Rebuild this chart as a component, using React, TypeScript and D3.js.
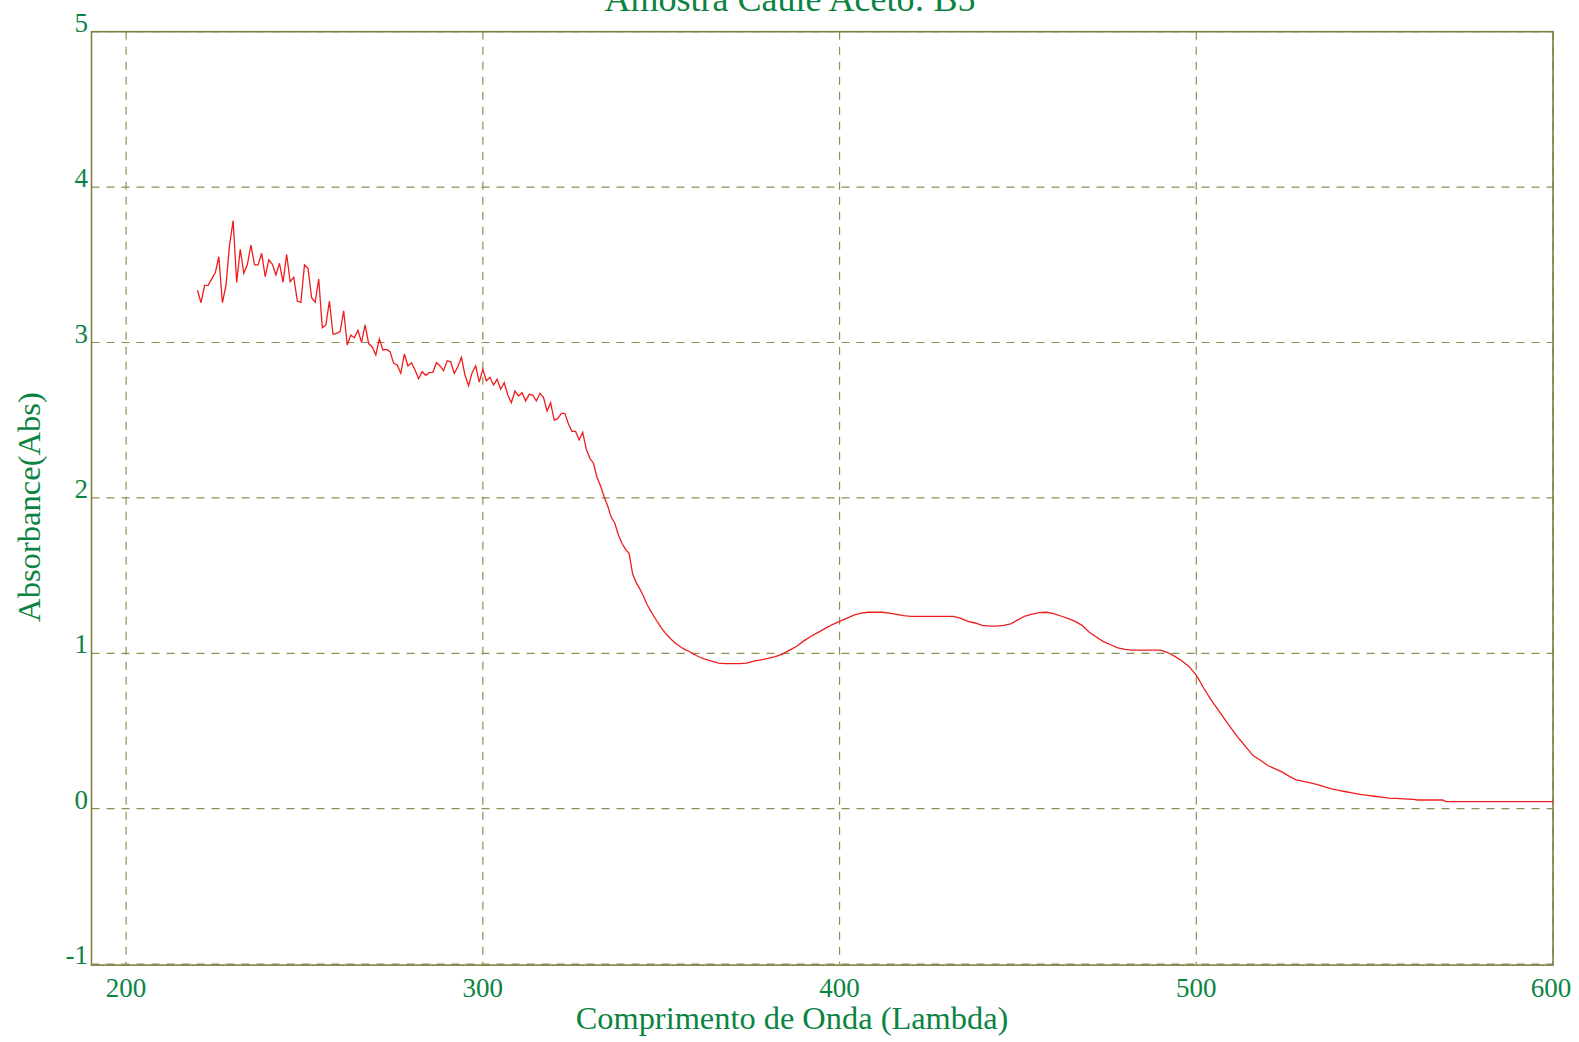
import React, { useEffect } from "react";
import * as d3 from "d3";

const title = "Amostra Caule Aceto: B5";
const xTitle = "Comprimento de Onda (Lambda)";
const yTitle = "Absorbance(Abs)";

const xTicks = [200, 300, 400, 500, 600];
const yTicks = [-1, 0, 1, 2, 3, 4, 5];

// noisy part, 1 nm steps from 220 to 342
const noisyStart = 220;
const noisyAbs = [
  3.336, 3.256, 3.368, 3.368, 3.409, 3.449, 3.552, 3.256, 3.368, 3.627,
  3.784, 3.387, 3.6, 3.445, 3.503, 3.627, 3.499, 3.499, 3.574, 3.423,
  3.533, 3.503, 3.434, 3.51, 3.387, 3.568, 3.391, 3.42, 3.267, 3.259,
  3.499, 3.477, 3.288, 3.259, 3.409, 3.095, 3.113, 3.267, 3.053, 3.059,
  3.07, 3.203, 2.984, 3.048, 3.031, 3.078, 3.001, 3.113, 2.992, 2.971,
  2.92, 3.023, 2.952, 2.956, 2.941, 2.866, 2.855, 2.802, 2.926, 2.849,
  2.87, 2.823, 2.767, 2.812, 2.789, 2.806, 2.808, 2.87, 2.849, 2.819,
  2.883, 2.876, 2.802, 2.844, 2.905, 2.791, 2.722, 2.806, 2.849, 2.745,
  2.828, 2.754, 2.776, 2.727, 2.763, 2.699, 2.741, 2.662, 2.613, 2.688,
  2.656, 2.677, 2.624, 2.667, 2.662, 2.624, 2.673, 2.647, 2.559, 2.613,
  2.501, 2.51, 2.544, 2.544, 2.476, 2.428, 2.428, 2.373, 2.422, 2.313,
  2.255, 2.223, 2.133, 2.077, 2.008, 1.948, 1.875, 1.837, 1.761, 1.708,
  1.669, 1.643, 1.51,
];

// smooth part
const smoothLambda = [
  343, 344, 345, 346, 347, 348, 349, 350, 351, 352, 353, 354, 355, 356, 357,
  358, 359, 360, 361, 362, 363, 364, 365, 366, 368, 370, 372, 374, 376, 378,
  380, 382, 384, 386, 388, 390, 392, 394, 396, 398, 400, 402, 404, 406, 408,
  410, 412, 414, 416, 418, 420, 425, 430, 432, 434, 436, 438, 440, 442, 444,
  446, 448, 450, 452, 454, 456, 458, 460, 462, 464, 466, 468, 470, 472, 474,
  476, 478, 480, 482, 486, 490, 492, 494, 496, 498, 500, 502, 504, 506, 508,
  510, 512, 514, 516, 518, 520, 522, 524, 526, 528, 530, 532, 534, 536, 538,
  540, 542, 544, 546, 548, 550, 552, 554, 556, 558, 561, 562, 569, 570, 600,
];
const smoothAbs = [
  1.455, 1.415, 1.369, 1.316, 1.275, 1.237, 1.2, 1.165, 1.135, 1.11, 1.085,
  1.065, 1.049, 1.033, 1.02, 1.01, 0.996, 0.984, 0.973, 0.964, 0.957, 0.95,
  0.945, 0.937, 0.934, 0.934, 0.934, 0.937, 0.95, 0.958, 0.968, 0.979, 0.995,
  1.02, 1.045, 1.08, 1.11, 1.135, 1.16, 1.185, 1.206, 1.225, 1.245, 1.258,
  1.264, 1.264, 1.264, 1.258, 1.25, 1.242, 1.238, 1.238, 1.238, 1.238, 1.225,
  1.205, 1.195, 1.18, 1.175, 1.175, 1.18, 1.19, 1.215, 1.24, 1.252, 1.262,
  1.264, 1.255, 1.24, 1.225, 1.205, 1.18, 1.135, 1.105, 1.075, 1.055, 1.035,
  1.025, 1.021, 1.021, 1.021, 1.005, 0.98, 0.95, 0.914, 0.86, 0.78, 0.705,
  0.64, 0.575, 0.51, 0.45, 0.395, 0.34, 0.312, 0.278, 0.258, 0.237, 0.21,
  0.186, 0.176, 0.166, 0.155, 0.14, 0.128, 0.118, 0.109, 0.1, 0.092, 0.086,
  0.08, 0.074, 0.068, 0.066, 0.063, 0.06, 0.056, 0.056, 0.045, 0.045,
];

type P = { x: number; y: number };
const data: P[] = [
  ...noisyAbs.map((v, i) => ({ x: noisyStart + i, y: v })),
  ...smoothLambda.map((l, i) => ({ x: l, y: smoothAbs[i] })),
];

const W = 1579;
const H = 1042;
const left = 91.5;
const right = 1553;
const top = 31.7;
const bottom = 964.1;

const textColor = "#0b8443";
const frameColor = "#808040";
const gridColor = "#8f8f55";
const font = "'Liberation Serif', 'Times New Roman', serif";

export default function App() {
  useEffect(() => {
    document.body.style.margin = "0";
  }, []);
  const x = d3.scaleLinear().domain([190.3, 600]).range([left, right]);
  const y = d3.scaleLinear().domain([-1, 5]).range([bottom, top]);
  const line = d3
    .line<P>()
    .x((d) => x(d.x))
    .y((d) => y(d.y));

  return (
    <svg width={W} height={H} style={{ display: "block", background: "#fff" }}>
      <text
        x={790}
        y={11}
        textAnchor="middle"
        fontFamily={font}
        fontSize={36}
        fill={textColor}
      >
        {title}
      </text>
      {xTicks.map((t) => (
        <line
          key={"gx" + t}
          x1={x(t)}
          x2={x(t)}
          y1={top}
          y2={bottom}
          stroke={gridColor}
          strokeWidth={1.2}
          strokeDasharray="8,7"
        />
      ))}
      {yTicks.map((t) => (
        <line
          key={"gy" + t}
          x1={left}
          x2={right}
          y1={y(t)}
          y2={y(t)}
          stroke={gridColor}
          strokeWidth={1.2}
          strokeDasharray="8,7"
        />
      ))}
      <rect
        x={left}
        y={top}
        width={right - left}
        height={bottom - top + 1}
        fill="none"
        stroke={frameColor}
        strokeWidth={1.6}
      />
      <path d={line(data) || ""} fill="none" stroke="#f01c1c" strokeWidth={1.3} />
      {yTicks.map((t) => (
        <text
          key={"ty" + t}
          x={88}
          y={y(t)}
          textAnchor="end"
          fontFamily={font}
          fontSize={27}
          fill={textColor}
        >
          {t}
        </text>
      ))}
      {xTicks.map((t) => (
        <text
          key={"tx" + t}
          x={t === 600 ? x(t) - 2 : x(t)}
          y={997}
          textAnchor="middle"
          fontFamily={font}
          fontSize={27}
          fill={textColor}
        >
          {t}
        </text>
      ))}
      <text
        x={792}
        y={1029}
        textAnchor="middle"
        fontFamily={font}
        fontSize={32.4}
        fill={textColor}
      >
        {xTitle}
      </text>
      <text
        transform={`translate(40, 507) rotate(-90)`}
        textAnchor="middle"
        fontFamily={font}
        fontSize={32.6}
        fill={textColor}
      >
        {yTitle}
      </text>
    </svg>
  );
}
